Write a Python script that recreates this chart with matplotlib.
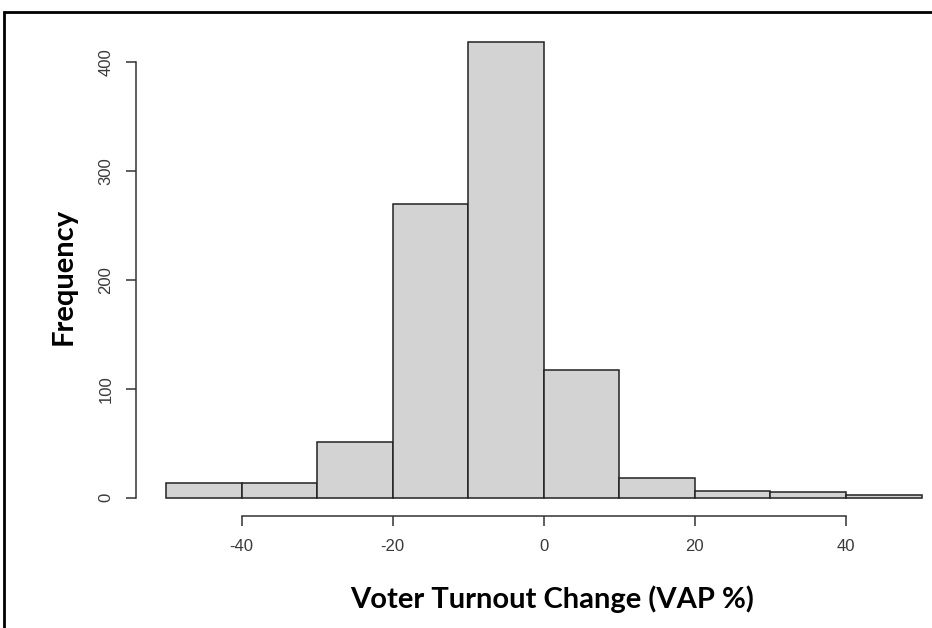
import matplotlib
matplotlib.use("Agg")
import matplotlib.pyplot as plt
from matplotlib.patches import Rectangle

plt.rcParams["axes.unicode_minus"] = False

# histogram of turnout change, 10-point bins
bin_edges = [-50, -40, -30, -20, -10, 0, 10, 20, 30, 40, 50]
counts = [14, 14, 51, 270, 418, 117, 18, 6, 5, 3]
x_ticks = [-40, -20, 0, 20, 40]
y_ticks = [0, 100, 200, 300, 400]

W, H = 932, 628
fig = plt.figure(figsize=(W / 100, H / 100), dpi=100)

# plot region in pixels: left 136, right 932 (clipped), bottom 516, top 24
ax = fig.add_axes([136 / W, (H - 516) / H, (W - 136) / W, (516 - 24) / H])
ax.set_xlim(-54, 51.39)
ax.set_ylim(-16.72, 434.72)

lefts = bin_edges[:-1]
widths = [b - a for a, b in zip(bin_edges[:-1], bin_edges[1:])]
ax.bar(lefts, counts, width=widths, align="edge", color="#d3d3d3",
       edgecolor="#222222", linewidth=1.1)

for side in ("top", "right"):
    ax.spines[side].set_visible(False)
for side in ("left", "bottom"):
    ax.spines[side].set_color("#333333")
    ax.spines[side].set_linewidth(1.1)
ax.spines["bottom"].set_bounds(x_ticks[0], x_ticks[-1])
ax.spines["left"].set_bounds(y_ticks[0], y_ticks[-1])

ax.set_xticks(x_ticks)
ax.set_yticks(y_ticks)
ax.set_yticklabels([str(v) for v in y_ticks], rotation=90, va="center")
ax.tick_params(axis="both", direction="out", length=7.2, width=1.1,
               color="#333333", labelcolor="#3a3a3a", labelsize=12,
               labelfontfamily="Liberation Sans")
ax.tick_params(axis="x", pad=9.5)
ax.tick_params(axis="y", pad=9)

fig.text(552 / W, 1 - 599 / H, "Voter Turnout Change (VAP %)",
         ha="center", va="center", fontsize=21, fontweight="bold",
         family="Lato", color="black")
fig.text(64 / W, 1 - 276 / H, "Frequency", ha="center", va="center",
         rotation=90, fontsize=21, fontweight="bold", family="Lato",
         color="black")

# outer frame (open at the right and bottom edges)
fig.patches.append(Rectangle((4 / W, -0.1), 1.1, 1 - 12 / H + 0.1,
                             transform=fig.transFigure, fill=False,
                             edgecolor="black", linewidth=2))

fig.savefig("out.png", dpi=100)
